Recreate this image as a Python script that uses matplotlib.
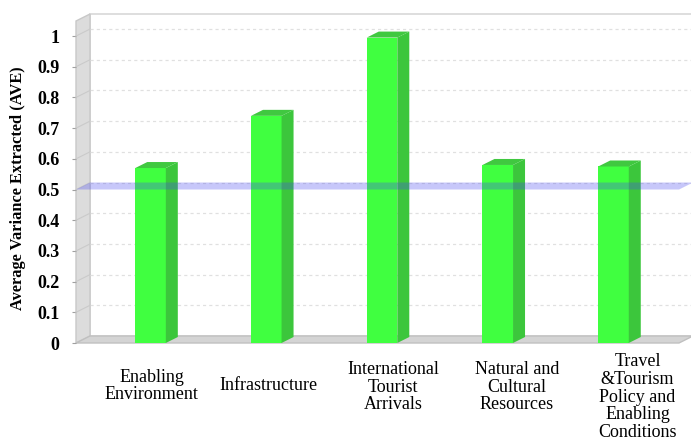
import matplotlib.pyplot as plt
from matplotlib.patches import Polygon
from matplotlib.transforms import ScaledTranslation, blended_transform_factory

categories = ["Enabling\nEnvironment", "Infrastructure", "International\nTourist\nArrivals",
              "Natural and\nCultural\nResources", "Travel\n&Tourism\nPolicy and\nEnabling\nConditions"]
ave = [0.57, 0.74, 0.995, 0.58, 0.575]
threshold = 0.5
yticks = [0, 0.1, 0.2, 0.3, 0.4, 0.5, 0.6, 0.7, 0.8, 0.9, 1]
ytick_labels = ["0", "0.1", "0.2", "0.3", "0.4", "0.5", "0.6", "0.7", "0.8", "0.9", "1"]

serif = "Liberation Serif"

fig = plt.figure(figsize=(6.91, 4.43), dpi=100)
ax = fig.add_axes([76 / 691, 100 / 443, 603 / 691, 322 / 443])
x0, x1 = -0.644, 4.566
ymax = 1.049
ax.set_xlim(x0, x1)
ax.set_ylim(0, ymax)

# pixel -> data scale for the fake 3d depth
px_x = 603 / (x1 - x0)
px_y = 322 / ymax
dx, dy = 14 / px_x, 7 / px_y          # wall depth
bdx, bdy = 12 / px_x, 6 / px_y        # bar depth

# walls
ax.add_patch(Polygon([(x0 + dx, dy), (x1 + dx, dy), (x1 + dx, ymax + dy), (x0 + dx, ymax + dy)],
                     closed=True, facecolor="white", edgecolor="#d8d8d8", lw=1.2, clip_on=False, zorder=0))
ax.add_patch(Polygon([(x0, 0), (x0 + dx, dy), (x0 + dx, ymax + dy), (x0, ymax)],
                     closed=True, facecolor="#dcdcdc", edgecolor="#c8c8c8", lw=1, clip_on=False, zorder=1))
ax.add_patch(Polygon([(x0, 0), (x1, 0), (x1 + dx, dy), (x0 + dx, dy)],
                     closed=True, facecolor="#d4d4d4", edgecolor="#c0c0c0", lw=1, clip_on=False, zorder=1))

# gridlines on back wall and left wall
for t in yticks[1:]:
    ax.plot([x0 + dx, x1 + dx], [t + dy, t + dy], color="#e0e0e0", lw=0.9, ls=(0, (2.5, 2.5)),
            clip_on=False, zorder=1)
    ax.plot([x0, x0 + dx], [t, t + dy], color="#cacaca", lw=0.8, clip_on=False, zorder=2)

# bars
xs = list(range(len(ave)))
w = 0.264
ax.bar(xs, ave, width=w, color="#40ff40", zorder=3, clip_on=False)
for x, h in zip(xs, ave):
    xl, xr = x - w / 2, x + w / 2
    ax.add_patch(Polygon([(xr, 0), (xr + bdx, bdy), (xr + bdx, h + bdy), (xr, h)],
                         closed=True, facecolor="#3cc63c", edgecolor="none", clip_on=False, zorder=3))
    ax.add_patch(Polygon([(xl, h), (xr, h), (xr + bdx, h + bdy), (xl + bdx, h + bdy)],
                         closed=True, facecolor="#40c840", edgecolor="none", clip_on=False, zorder=3))

# threshold band at 0.5
ax.add_patch(Polygon([(x0, threshold), (x1, threshold), (x1 + dx, threshold + dy), (x0 + dx, threshold + dy)],
                     closed=True, facecolor="#4848f0", alpha=0.3, edgecolor="none", clip_on=False, zorder=4))

# axes styling
for s in ax.spines.values():
    s.set_visible(False)
ax.set_xticks([])
ax.set_yticks(yticks)
ax.set_yticklabels(ytick_labels, fontfamily=serif, fontweight="bold", fontsize=13)
ax.tick_params(axis="y", length=3, color="#a0a0a0", pad=9)
ax.set_facecolor("none")

fig.text(18 / 691, 1 - 188 / 443, "Average Variance Extracted (AVE)", rotation=90,
         ha="center", va="center", fontfamily=serif, fontweight="bold", fontsize=11.8)

# category labels
nudge_px = [1, 2, 11, 19, 24]
label_y = [386, 386, 387, 387, 397]
trans = blended_transform_factory(ax.transData, fig.transFigure)
for x, lab, n, ly in zip(xs, categories, nudge_px, label_y):
    ax.text(x, 1 - ly / 443, lab, ha="center", va="center", multialignment="center",
            fontfamily=serif, fontsize=13, linespacing=1.07,
            transform=trans + ScaledTranslation(n / 100, 0, fig.dpi_scale_trans))

fig.savefig("out.png", dpi=100)
